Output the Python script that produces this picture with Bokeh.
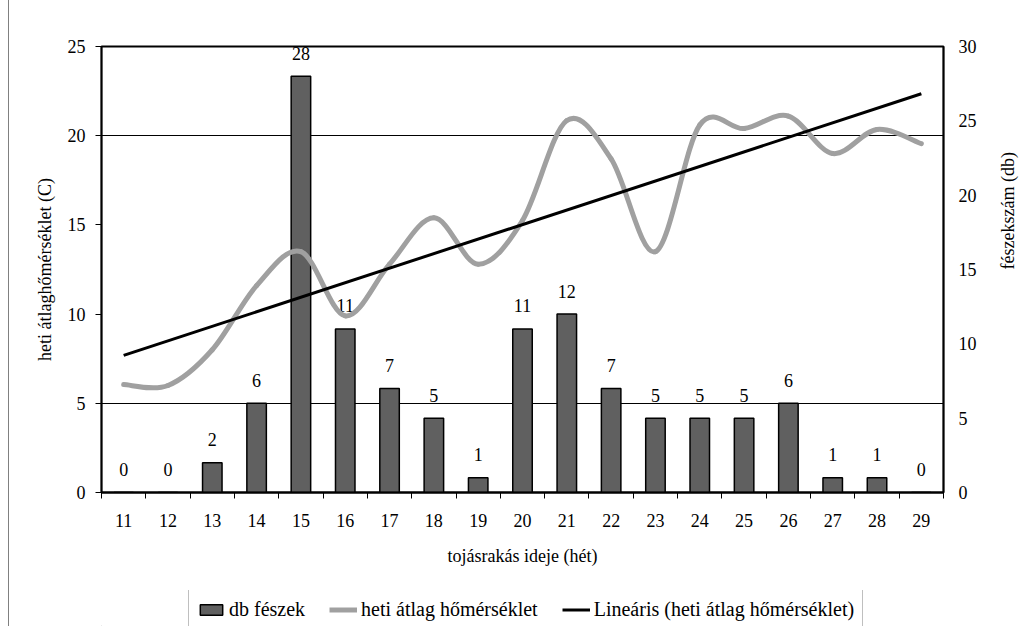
import math
import numpy as np
from bokeh.plotting import figure
from bokeh.layouts import column
from bokeh.models import (Range1d, LinearAxis, FixedTicker, Legend, LegendItem)
from bokeh.core.properties import value
from bokeh.embed import file_html
from bokeh.resources import INLINE

# ---- data ----
weeks = list(range(11, 30))
nests = [0, 0, 2, 6, 28, 11, 7, 5, 1, 11, 12, 7, 5, 5, 5, 6, 1, 1, 0]
temps = [6.05, 6.0, 8.0, 11.6, 13.5, 9.9, 12.8, 15.4, 12.8, 15.25,
         20.85, 18.7, 13.5, 20.6, 20.4, 21.1, 19.0, 20.35, 19.55]
left_ticks = [0, 5, 10, 15, 20, 25]
right_ticks = [0, 5, 10, 15, 20, 25, 30]
series_names = ["db fészek", "heti átlag hőmérséklet", "Lineáris (heti átlag hőmérséklet)"]

FONT = "Liberation Serif"
BAR_FILL = "#606060"
TEMP_COLOR = "#a0a0a0"
W = 1021

p = figure(width=W, height=590, x_range=Range1d(10.5, 29.5), y_range=Range1d(0, 25),
           output_backend="svg", toolbar_location=None,
           min_border_left=92, min_border_right=80, min_border_top=46, min_border_bottom=98,
           x_axis_location=None, y_axis_location=None)
p.background_fill_color = "white"
p.border_fill_color = "white"
p.outline_line_color = "black"
p.outline_line_width = 2

p.extra_y_ranges = {"db": Range1d(0, 30)}

# axes
xaxis = LinearAxis(ticker=FixedTicker(ticks=weeks, minor_ticks=[w - 0.5 for w in weeks] + [29.5]),
                   axis_label="tojásrakás ideje (hét)")
xaxis.major_tick_out = 0
xaxis.major_tick_in = 0
xaxis.minor_tick_out = 6
xaxis.minor_tick_in = 0
xaxis.minor_tick_line_color = "black"
xaxis.axis_line_width = 2
xaxis.major_label_standoff = 15
xaxis.axis_label_standoff = 16
p.add_layout(xaxis, "below")

laxis = LinearAxis(ticker=FixedTicker(ticks=left_ticks), axis_label="heti átlaghőmérséklet (C)")
laxis.major_tick_out = 6
laxis.major_tick_in = 0
laxis.minor_tick_out = 0
laxis.minor_tick_in = 0
laxis.major_label_standoff = 10
laxis.axis_label_standoff = 10
laxis.axis_line_width = 1.5
p.add_layout(laxis, "left")

raxis = LinearAxis(y_range_name="db", ticker=FixedTicker(ticks=right_ticks),
                   axis_label="fészekszám (db)")
raxis.major_tick_out = 0
raxis.major_tick_in = 0
raxis.minor_tick_out = 0
raxis.minor_tick_in = 0
raxis.major_label_standoff = 15
raxis.axis_label_standoff = 28
raxis.axis_line_width = 1.5
try:
    raxis.axis_label_orientation = math.pi / 2
except Exception:
    pass
p.add_layout(raxis, "right")

for ax in (xaxis, laxis, raxis):
    ax.major_label_text_font = FONT
    ax.major_label_text_font_size = "18px"
    ax.major_label_text_color = "black"
    ax.axis_label_text_font = FONT
    ax.axis_label_text_font_size = "18px"
    ax.axis_label_text_font_style = "normal"
    ax.axis_label_text_color = "black"
    ax.axis_line_color = "black"
    ax.major_tick_line_color = "black"

# grid: only at 5 and 20 as in the reference
p.xgrid.visible = False
p.ygrid.ticker = FixedTicker(ticks=[5, 20])
p.ygrid.grid_line_color = "black"
p.ygrid.grid_line_width = 1

# bars
p.vbar(x=weeks, top=nests, bottom=0, width=0.44, y_range_name="db",
       fill_color=BAR_FILL, line_color="black", line_width=1.5)
p.text(x=weeks, y=nests, text=[str(n) for n in nests], y_range_name="db",
       text_align="center", text_baseline="middle", y_offset=-23,
       text_font=value(FONT), text_font_size="18px", text_color="black")

# smoothed temperature curve (Bezier segments through the data points)
xs = np.array(weeks, dtype=float)
ys = np.array(temps, dtype=float)
n = len(xs)
x0, y0, x1, y1, cx0, cy0, cx1, cy1 = [], [], [], [], [], [], [], []
for i in range(n - 1):
    im1 = max(i - 1, 0)
    ip2 = min(i + 2, n - 1)
    x0.append(xs[i]); y0.append(ys[i])
    x1.append(xs[i + 1]); y1.append(ys[i + 1])
    cx0.append(xs[i] + (xs[i + 1] - xs[im1]) / 6.0)
    cy0.append(ys[i] + (ys[i + 1] - ys[im1]) / 6.0)
    cx1.append(xs[i + 1] - (xs[ip2] - xs[i]) / 6.0)
    cy1.append(ys[i + 1] - (ys[ip2] - ys[i]) / 6.0)
p.bezier(x0=x0, y0=y0, x1=x1, y1=y1, cx0=cx0, cy0=cy0, cx1=cx1, cy1=cy1,
         line_color=TEMP_COLOR, line_width=5, line_cap="round")

# linear trend line
coef = np.polyfit(xs, ys, 1)
tx = [weeks[0], weeks[-1]]
p.line(x=tx, y=list(np.polyval(coef, tx)), line_color="black", line_width=3)

# ---- legend strip (separate small figure below the chart) ----
LH = 36
leg = figure(width=W, height=LH, x_range=Range1d(0, 1), y_range=Range1d(0, 1),
             output_backend="svg", toolbar_location=None,
             min_border_left=0, min_border_right=0, min_border_top=0, min_border_bottom=0,
             x_axis_location=None, y_axis_location=None)
leg.outline_line_color = None
leg.xgrid.visible = False
leg.ygrid.visible = False
# proxy renderers, placed outside the visible range, only for the legend swatches
r_bar = leg.vbar(x=[-10], top=[-10], bottom=[-11], width=0.5, fill_color=BAR_FILL,
                 line_color="black", line_width=1.5)
r_tmp = leg.line(x=[-10, -9], y=[-10, -10], line_color=TEMP_COLOR, line_width=5)
r_trd = leg.line(x=[-10, -9], y=[-10, -10], line_color="black", line_width=3)
legend = Legend(items=[LegendItem(label=series_names[0], renderers=[r_bar]),
                       LegendItem(label=series_names[1], renderers=[r_tmp]),
                       LegendItem(label=series_names[2], renderers=[r_trd])],
                orientation="horizontal", location=(87, -4))
legend.label_text_font = FONT
legend.label_text_font_size = "20px"
legend.label_text_color = "black"
legend.border_line_color = "#808080"
legend.border_line_width = 1
legend.background_fill_alpha = 0
legend.padding = 8
legend.spacing = 24
legend.label_standoff = 4
legend.glyph_width = 28
legend.glyph_height = 13
legend.label_height = 20
legend.margin = 0
leg.add_layout(legend, "center")

layout = column(p, leg, spacing=0)
layout.styles = {"margin-left": "8px", "border-left": "1px solid #808080"}

open("out.html", "w").write(file_html(layout, INLINE))
